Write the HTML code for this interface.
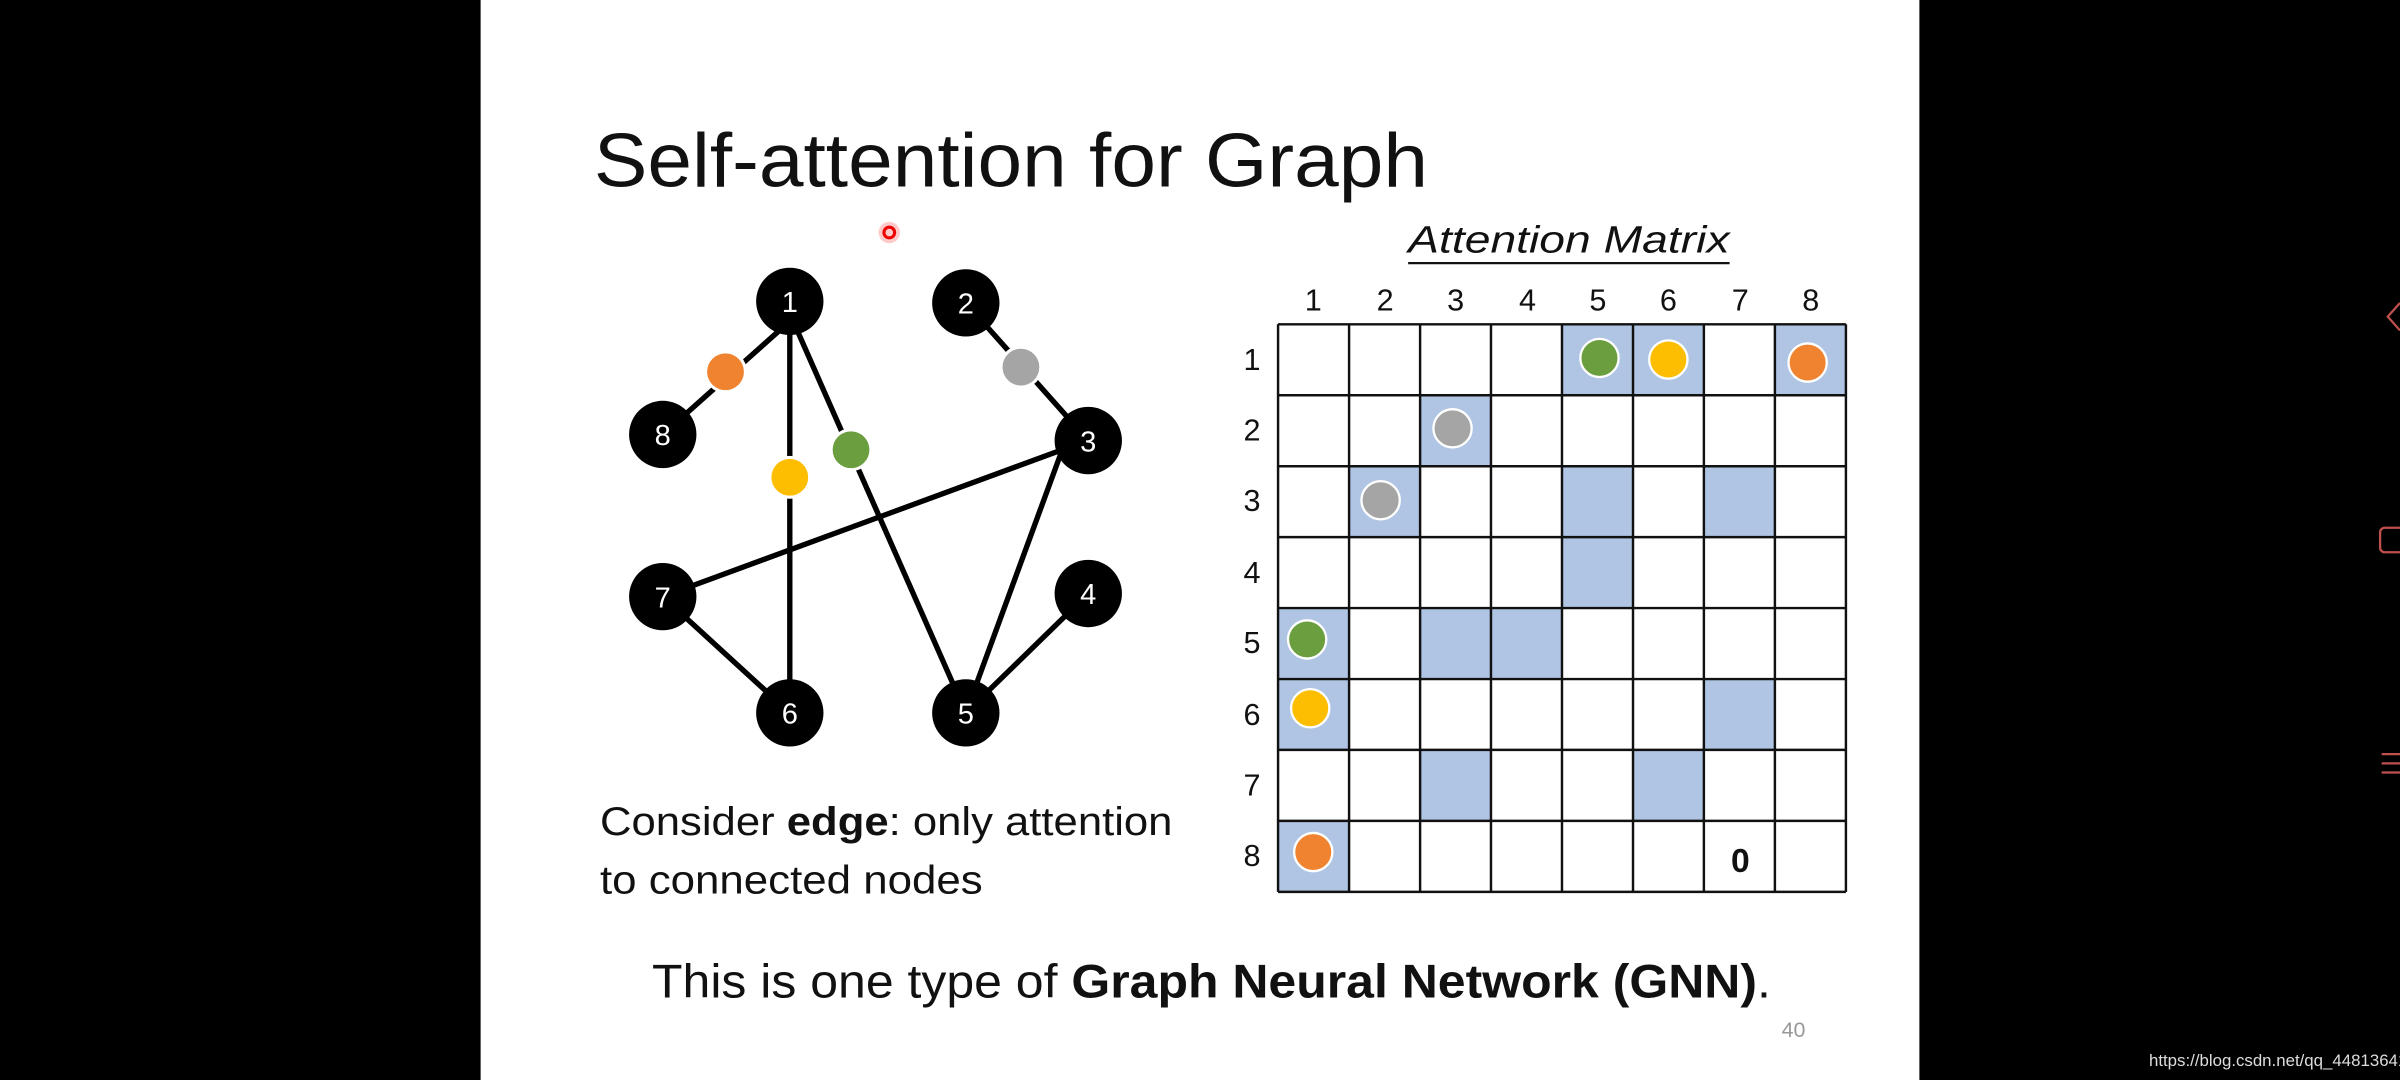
<!DOCTYPE html>
<html><head><meta charset="utf-8"><style>
html,body{margin:0;padding:0;background:#000;}
svg{display:block;}
</style></head><body>
<svg width="2400" height="1080" viewBox="0 0 1568 706" preserveAspectRatio="none" xmlns="http://www.w3.org/2000/svg">
<rect x="0" y="0" width="1568" height="706" fill="#000"/>
<rect x="314" y="0" width="940" height="706" fill="#fff"/>
<g font-family="Liberation Sans, sans-serif">
<text x="388" y="122" font-size="50" textLength="545" lengthAdjust="spacingAndGlyphs" fill="#111">Self-attention for Graph</text>
<circle cx="581" cy="152" r="7" fill="#f66" opacity="0.35"/>
<circle cx="581" cy="152" r="3.5" fill="none" stroke="#e00" stroke-width="2"/>

<!-- edges -->
<g stroke="#000" stroke-width="3.5">
<line x1="516" y1="210" x2="433" y2="284"/>
<line x1="516" y1="205" x2="516" y2="466"/>
<line x1="516" y1="205" x2="631" y2="466"/>
<line x1="631" y1="198" x2="711" y2="288"/>
<line x1="694" y1="294" x2="433" y2="390"/>
<line x1="694" y1="294" x2="631" y2="466"/>
<line x1="711" y1="388" x2="631" y2="466"/>
<line x1="433" y1="390" x2="516" y2="466"/>
</g>
<g stroke="#fff" stroke-width="2">
<circle cx="474" cy="243" r="13" fill="#f08330"/>
<circle cx="516" cy="312" r="13" fill="#fdbd00"/>
<circle cx="556" cy="294" r="13" fill="#6b9e3e"/>
<circle cx="667" cy="240" r="13" fill="#a5a5a5"/>
</g>
<g fill="#000">
<circle cx="516" cy="197" r="22"/><circle cx="631" cy="198" r="22"/>
<circle cx="711" cy="288" r="22"/><circle cx="711" cy="388" r="22"/>
<circle cx="631" cy="466" r="22"/><circle cx="516" cy="466" r="22"/>
<circle cx="433" cy="390" r="22"/><circle cx="433" cy="284" r="22"/>
</g>
<g fill="#fff" font-size="19" text-anchor="middle">
<text x="516" y="204">1</text><text x="631" y="205">2</text>
<text x="711" y="295">3</text><text x="711" y="395">4</text>
<text x="631" y="473">5</text><text x="516" y="473">6</text>
<text x="433" y="397">7</text><text x="433" y="291">8</text>
</g>

<!-- matrix -->
<text x="920" y="165" font-size="25" font-style="italic" textLength="210" lengthAdjust="spacingAndGlyphs" fill="#111">Attention Matrix</text>
<line x1="920" y1="172" x2="1130" y2="172" stroke="#111" stroke-width="1.5"/>
<g font-size="20" fill="#111" text-anchor="middle">
<text x="858" y="203">1</text><text x="905" y="203">2</text><text x="951" y="203">3</text><text x="998" y="203">4</text>
<text x="1044" y="203">5</text><text x="1090" y="203">6</text><text x="1137" y="203">7</text><text x="1183" y="203">8</text>
<text x="818" y="242">1</text><text x="818" y="288">2</text><text x="818" y="334">3</text><text x="818" y="381">4</text>
<text x="818" y="427">5</text><text x="818" y="474">6</text><text x="818" y="520">7</text><text x="818" y="566">8</text>
</g>
<g fill="#b0c5e4">
<rect x="1021" y="212" width="46.4" height="46.4"/><rect x="1067" y="212" width="46.4" height="46.4"/><rect x="1160" y="212" width="46.4" height="46.4"/>
<rect x="928" y="258" width="46.4" height="46.4"/>
<rect x="881" y="305" width="46.4" height="46.4"/><rect x="1021" y="305" width="46.4" height="46.4"/><rect x="1113" y="305" width="46.4" height="46.4"/>
<rect x="1021" y="351" width="46.4" height="46.4"/>
<rect x="835" y="398" width="46.4" height="46.4"/><rect x="928" y="398" width="46.4" height="46.4"/><rect x="974" y="398" width="46.4" height="46.4"/>
<rect x="835" y="444" width="46.4" height="46.4"/><rect x="1113" y="444" width="46.4" height="46.4"/>
<rect x="928" y="490" width="46.4" height="46.4"/><rect x="1067" y="490" width="46.4" height="46.4"/>
<rect x="835" y="537" width="46.4" height="46.4"/>
</g>
<g stroke="#111" stroke-width="1.6">
<line x1="835" y1="212" x2="1206" y2="212"/><line x1="835" y1="258.4" x2="1206" y2="258.4"/>
<line x1="835" y1="304.8" x2="1206" y2="304.8"/><line x1="835" y1="351.1" x2="1206" y2="351.1"/>
<line x1="835" y1="397.5" x2="1206" y2="397.5"/><line x1="835" y1="443.9" x2="1206" y2="443.9"/>
<line x1="835" y1="490.2" x2="1206" y2="490.2"/><line x1="835" y1="536.6" x2="1206" y2="536.6"/>
<line x1="835" y1="583" x2="1206" y2="583"/>
<line x1="835" y1="212" x2="835" y2="583"/><line x1="881.4" y1="212" x2="881.4" y2="583"/>
<line x1="927.8" y1="212" x2="927.8" y2="583"/><line x1="974.1" y1="212" x2="974.1" y2="583"/>
<line x1="1020.5" y1="212" x2="1020.5" y2="583"/><line x1="1066.9" y1="212" x2="1066.9" y2="583"/>
<line x1="1113.2" y1="212" x2="1113.2" y2="583"/><line x1="1159.6" y1="212" x2="1159.6" y2="583"/>
<line x1="1206" y1="212" x2="1206" y2="583"/>
</g>
<g stroke="#fff" stroke-width="1.5">
<circle cx="1045" cy="234" r="12.5" fill="#6b9e3e"/>
<circle cx="1090" cy="235" r="12.5" fill="#fdbd00"/>
<circle cx="1181" cy="237" r="12.5" fill="#f08330"/>
<circle cx="949" cy="280" r="12.5" fill="#a5a5a5"/>
<circle cx="902" cy="327" r="12.5" fill="#a5a5a5"/>
<circle cx="854" cy="418" r="12.5" fill="#6b9e3e"/>
<circle cx="856" cy="463" r="12.5" fill="#fdbd00"/>
<circle cx="858" cy="557" r="12.5" fill="#f08330"/>
</g>
<text x="1137" y="570" font-size="22" font-weight="bold" text-anchor="middle" fill="#111">0</text>

<text x="392" y="546" font-size="26" textLength="374" lengthAdjust="spacingAndGlyphs" fill="#111">Consider <tspan font-weight="bold">edge</tspan>: only attention</text>
<text x="392" y="584" font-size="26" textLength="250" lengthAdjust="spacingAndGlyphs" fill="#111">to connected nodes</text>
<text x="426" y="652" font-size="31" textLength="731" lengthAdjust="spacingAndGlyphs" fill="#111">This is one type of <tspan font-weight="bold">Graph Neural Network (GNN)</tspan>.</text>
<text x="1164" y="678" font-size="14" fill="#999">40</text>
<text x="1404" y="697" font-size="11" fill="#ddd">https://blog.csdn.net/qq_44813641</text>
</g>
<!-- side icons -->
<g stroke="#c0504d" stroke-width="1.5" fill="none">
<polyline points="1568,198 1560,207 1568,216"/>
<rect x="1555" y="345" width="20" height="16" rx="3"/>
<line x1="1556" y1="493" x2="1568" y2="493"/><line x1="1556" y1="499" x2="1568" y2="499"/><line x1="1556" y1="505" x2="1568" y2="505"/>
</g>
</svg>
</body></html>
